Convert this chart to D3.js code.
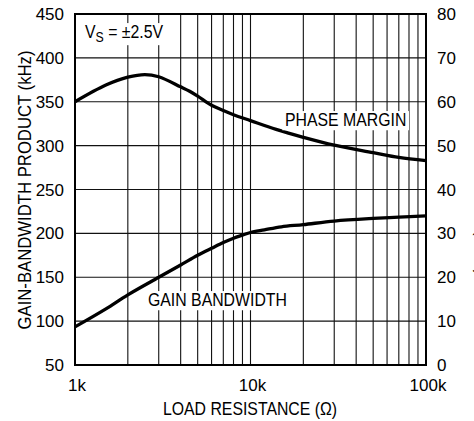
<!DOCTYPE html>
<html>
<head>
<script src="https://d3js.org/d3.v7.min.js"></script>
<style>
  body { margin: 0; background: #fff; }
  text { fill: #000; font-family: "Liberation Sans", Arial, sans-serif; }
  .tick { font-size: 17px; }
  .lbl { font-size: 18px; }
</style>
</head>
<body>
<svg id="chart" width="474" height="421"></svg>
<script>
// load resistance (ohms) where the curves were read
var gbwR   = [1000, 1500, 2000, 3000, 4000, 5000, 6000, 7000, 8000, 9000, 10000, 12000, 15000, 20000, 30000, 50000, 70000, 100000];
var gbwKHz = [93.5, 114, 130, 150, 164, 175, 183, 189.6, 194.5, 198, 201, 204, 207.5, 210, 214, 217, 218.5, 220];

var pmR   = [1000, 1500, 2000, 2500, 3000, 4000, 4500, 5000, 6000, 7000, 8000, 10000, 14000, 20000, 30000, 50000, 70000, 100000];
var pmDeg = [60, 63.8, 65.6, 66.2, 65.7, 63.4, 62.4, 61.3, 59.2, 58.0, 57.05, 55.7, 53.7, 51.9, 50.1, 48.4, 47.3, 46.6];

var leftTicks  = [50, 100, 150, 200, 250, 300, 350, 400, 450];
var rightTicks = [0, 10, 20, 30, 40, 50, 60, 70, 80];
var xTicks     = [1000, 10000, 100000];
var xTickLabels = ["1k", "10k", "100k"];
var xGrid = [2000, 3000, 4000, 5000, 6000, 7000, 8000, 9000, 10000,
             20000, 30000, 40000, 50000, 60000, 70000, 80000, 90000];

var svg = d3.select("#chart"),
    pL = 75, pR = 426, pT = 14, pB = 365,
    squeeze = 0.88;   // condensed look for the labels

var x = d3.scaleLog().domain([1000, 100000]).range([pL, pR]);
var yL = d3.scaleLinear().domain([50, 450]).range([pB, pT]);
var yR = d3.scaleLinear().domain([0, 80]).range([pB, pT]);

// grid
svg.append("g").selectAll("line").data(xGrid).enter().append("line")
  .attr("x1", function(d) { return x(d); }).attr("x2", function(d) { return x(d); })
  .attr("y1", pT).attr("y2", pB)
  .attr("stroke", "#111").attr("stroke-width", 1.1);
svg.append("g").selectAll("line").data(leftTicks.slice(1, -1)).enter().append("line")
  .attr("x1", pL).attr("x2", pR)
  .attr("y1", function(d) { return yL(d); }).attr("y2", function(d) { return yL(d); })
  .attr("stroke", "#111").attr("stroke-width", 1.1);

// frame
svg.append("rect").attr("x", pL).attr("y", pT)
  .attr("width", pR - pL).attr("height", pB - pT)
  .attr("fill", "none").attr("stroke", "#000").attr("stroke-width", 2);

// curves
var gbwLine = d3.line()
  .x(function(d, i) { return x(gbwR[i]); })
  .y(function(d) { return yL(d); })
  .curve(d3.curveCatmullRom);
var pmLine = d3.line()
  .x(function(d, i) { return x(pmR[i]); })
  .y(function(d) { return yR(d); })
  .curve(d3.curveCatmullRom);

svg.append("path").attr("d", gbwLine(gbwKHz))
  .attr("fill", "none").attr("stroke", "#000").attr("stroke-width", 3.3);
svg.append("path").attr("d", pmLine(pmDeg))
  .attr("fill", "none").attr("stroke", "#000").attr("stroke-width", 3.3);

// tick labels
svg.append("g").selectAll("text").data(leftTicks).enter().append("text")
  .attr("class", "tick").attr("x", 64).attr("y", function(d) { return yL(d); })
  .attr("dy", "0.36em").attr("text-anchor", "end").text(function(d) { return d; });
svg.append("g").selectAll("text").data(rightTicks).enter().append("text")
  .attr("class", "tick").attr("x", 437).attr("y", function(d) { return yR(d); })
  .attr("dy", "0.36em").attr("text-anchor", "start").text(function(d) { return d; });
svg.append("g").selectAll("text").data(xTicks).enter().append("text")
  .attr("class", "tick").attr("x", function(d) { return x(d) + 2; }).attr("y", 391)
  .attr("text-anchor", "middle").text(function(d, i) { return xTickLabels[i]; });

// labels drawn in a squeezed group so they look condensed
function label(tx, ty, rot, anchor, txt, size) {
  var g = svg.append("g")
    .attr("transform", "translate(" + tx + "," + ty + ") rotate(" + rot + ") scale(" + squeeze + ",1)");
  var t = g.append("text").attr("class", "lbl").attr("text-anchor", anchor);
  if (size) t.style("font-size", size + "px");
  if (txt) t.text(txt);
  return t;
}
function boxed(t) {
  var b = t.node().getBBox();
  d3.select(t.node().parentNode).insert("rect", "text")
    .attr("x", b.x - 3).attr("y", b.y + 1).attr("width", b.width + 6).attr("height", b.height - 1)
    .attr("fill", "#fff");
}

label(250, 415, 0, "middle", "LOAD RESISTANCE (\u03A9)");
label(31, 190, -90, "middle", "GAIN-BANDWIDTH PRODUCT (kHz)", 19);
label(477, 275, 90, "end", "PHASE MARGIN (DEG)");

boxed(label(285, 126, 0, "start", "PHASE MARGIN"));
boxed(label(148, 306, 0, "start", "GAIN BANDWIDTH"));
var vs = label(85, 38, 0, "start", null);
vs.append("tspan").text("V");
vs.append("tspan").attr("dy", 4).style("font-size", "14px").text("S");
vs.append("tspan").attr("dy", -4).text(" = \u00B12.5V");
boxed(vs);
</script>
</body>
</html>
